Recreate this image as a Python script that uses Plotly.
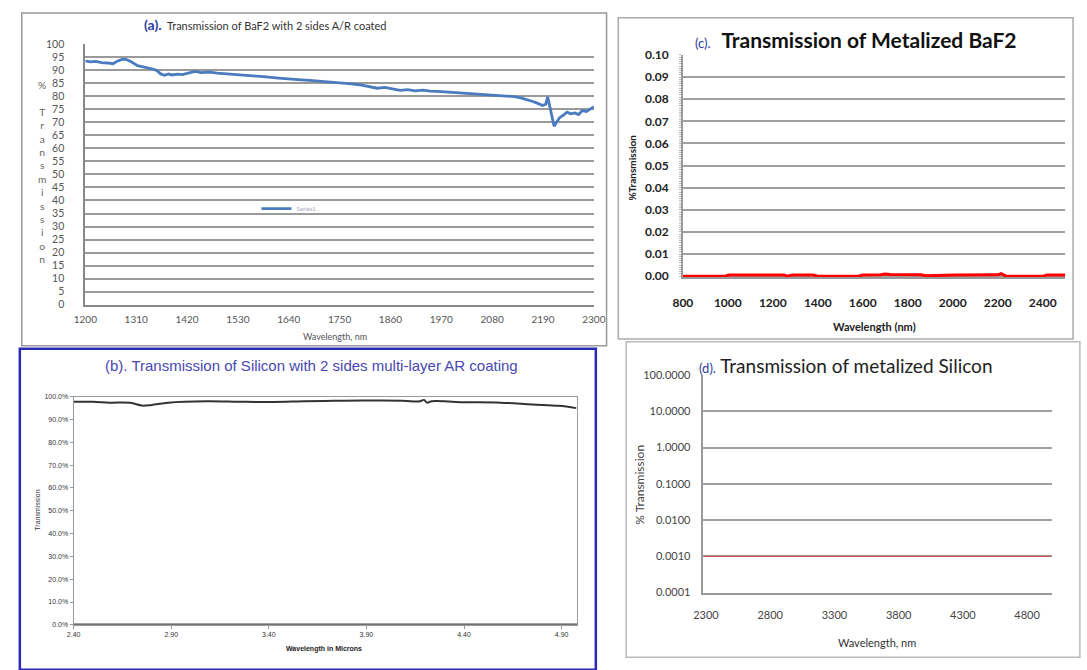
import plotly.graph_objects as go

# ---------------- data ----------------
# (a) BaF2 with 2 sides A/R coated
wl_a = [1200, 1210, 1222, 1235, 1248, 1260, 1270, 1281, 1289, 1300, 1313, 1325, 1338, 1348,
        1355, 1363, 1371, 1380, 1387, 1400, 1410, 1420, 1430, 1437, 1450, 1470, 1485, 1503,
        1520, 1535, 1550, 1568, 1590, 1618, 1640, 1667, 1685, 1700, 1725, 1749, 1770, 1798,
        1815, 1831, 1848, 1864, 1881, 1897, 1914, 1930, 1946, 1970, 1996, 2010, 2029, 2050,
        2070, 2090, 2111, 2128, 2144, 2158, 2168, 2180, 2189, 2196, 2200, 2203, 2207, 2211,
        2214, 2220, 2226, 2234, 2242, 2250, 2259, 2267, 2275, 2284, 2292, 2300]
t_a = [93.6, 93.2, 93.4, 92.9, 92.8, 92.5, 93.6, 94.3, 94.1, 93.2, 91.8, 91.3, 90.9, 90.4,
       89.8, 88.6, 88.1, 88.6, 88.2, 88.5, 88.3, 88.7, 89.3, 89.6, 89.1, 89.3, 88.9, 88.7,
       88.4, 88.3, 87.9, 87.9, 87.5, 87.0, 86.8, 86.3, 86.1, 85.9, 85.6, 85.1, 84.9, 84.3,
       83.8, 83.1, 83.4, 82.8, 82.3, 82.6, 82.1, 82.4, 82.0, 81.8, 81.5, 81.3, 81.1, 80.8,
       80.7, 80.6, 80.3, 79.9, 79.3, 78.6, 78.0, 77.2, 76.5, 77.0, 79.8, 77.5, 74.5, 70.5,
       68.5, 70.2, 71.8, 72.8, 73.9, 73.3, 73.6, 73.0, 74.5, 74.2, 75.2, 76.0]
ticks_a = [1200, 1310, 1420, 1530, 1640, 1750, 1860, 1970, 2080, 2190, 2300]

# (b) Silicon with 2 sides multi-layer AR coating (wavelength in microns, % transmission)
wl_b = [2.40, 2.50, 2.585, 2.69, 2.75, 2.80, 2.885, 3.085, 3.25, 3.42, 3.585, 3.735, 3.885,
        4.085, 4.175, 4.195, 4.21, 4.235, 4.385, 4.585, 4.75, 4.885, 4.975]
t_b = [97.8, 97.8, 97.4, 97.3, 96.1, 96.4, 97.4, 98.0, 97.8, 97.7, 98.0, 98.2, 98.3,
       98.2, 98.0, 98.6, 97.4, 98.0, 97.6, 97.4, 96.6, 96.0, 95.0]
base_b_x = [2.40, 4.98]
base_b_y = [0.3, 0.3]
ticks_b_x = [2.40, 2.90, 3.40, 3.90, 4.40, 4.90]
ticks_b_y = [0, 10, 20, 30, 40, 50, 60, 70, 80, 90, 100]

# (c) Metalized BaF2
wl_c = [800, 990, 1000, 1010, 1250, 1265, 1280, 1295, 1380, 1400, 1580, 1600, 1680, 1700,
        1720, 1860, 1880, 1990, 2010, 2200, 2215, 2235, 2250, 2400, 2420, 2500]
t_c = [0.0000, 0.0000, 0.0004, 0.0005, 0.0005, 0.0000, 0.0004, 0.0005, 0.0005, 0.0000,
       0.0000, 0.0005, 0.0006, 0.0010, 0.0007, 0.0006, 0.0002, 0.0002, 0.0005, 0.0006,
       0.0011, 0.0001, 0.0000, 0.0000, 0.0005, 0.0005]
ticks_c_y = [0.00, 0.01, 0.02, 0.03, 0.04, 0.05, 0.06, 0.07, 0.08, 0.09, 0.10]

# (d) Metalized Silicon
wl_d = [2280, 2800, 3300, 3800, 4300, 4800, 4990]
t_d = [0.001, 0.001, 0.001, 0.001, 0.001, 0.001, 0.001]
ticks_d_x = [2300, 2800, 3300, 3800, 4300, 4800]
ticks_d_y = [0.0001, 0.001, 0.01, 0.1, 1, 10, 100]

W, H = 1087, 670


def px(x):
    return x / W


def py(y):
    return 1 - y / H


CAL = "Lato, 'Open Sans', sans-serif"
ARI = "'Liberation Sans', Arial, sans-serif"

fig = go.Figure()

fig.add_trace(go.Scatter(x=wl_a, y=t_a, mode="lines", name="Series1",
                         line=dict(color="#4a7bbf", width=2.8), xaxis="x", yaxis="y",
                         showlegend=True))
fig.add_trace(go.Scatter(x=base_b_x, y=base_b_y, mode="lines", line=dict(color="#444", width=1.5),
                         xaxis="x2", yaxis="y2", showlegend=False))
fig.add_trace(go.Scatter(x=wl_b, y=t_b, mode="lines", line=dict(color="#333", width=2, shape="spline"),
                         xaxis="x2", yaxis="y2", showlegend=False))
fig.add_trace(go.Scatter(x=wl_c, y=t_c, mode="lines", line=dict(color="#ff0000", width=3),
                         xaxis="x3", yaxis="y3", showlegend=False))
fig.add_trace(go.Scatter(x=wl_d, y=t_d, mode="lines", line=dict(color="#d04040", width=1),
                         xaxis="x4", yaxis="y4", showlegend=False))

fig.update_layout(
    width=W, height=H, margin=dict(l=0, r=0, t=0, b=0),
    paper_bgcolor="white", plot_bgcolor="white",
    showlegend=True,
    legend=dict(x=px(250), y=py(205), xanchor="left", yanchor="middle", bgcolor="rgba(0,0,0,0)",
                font=dict(family=CAL, size=6, color="#aab"), itemwidth=30),
    # (a)
    xaxis=dict(domain=[px(75), px(595)], anchor="y", range=[1200, 2300], tickvals=ticks_a,
               showgrid=False, zeroline=False, showline=True, linecolor="#888", linewidth=2,
               tickfont=dict(family=CAL, size=10, color="#555"), ticks="", ticklabelstandoff=4),
    yaxis=dict(domain=[py(303), py(37)], anchor="x", range=[0, 100], dtick=5,
               showgrid=True, gridcolor="#9a9a9a", gridwidth=2, zeroline=False,
               showline=True, linecolor="#888", linewidth=2,
               tickfont=dict(family=CAL, size=10.5, color="#555"), ticks="", ticklabelstandoff=17),
    # (b)
    xaxis2=dict(domain=[px(63), px(578)], anchor="y2", range=[2.40, 4.98], tickvals=ticks_b_x,
                tickformat=".2f", showgrid=False, zeroline=False, showline=True, mirror=True,
                linecolor="#999", linewidth=1, ticks="outside", ticklen=3, tickcolor="#999",
                tickfont=dict(family=ARI, size=7, color="#333")),
    yaxis2=dict(domain=[py(630), py(397)], anchor="x2", range=[0, 100], tickvals=ticks_b_y,
                ticktext=[f"{v:.1f}%" for v in ticks_b_y], showgrid=False, zeroline=False,
                showline=True, mirror=True, linecolor="#999", linewidth=1, ticks="outside",
                ticklen=3, tickcolor="#999", tickfont=dict(family=ARI, size=7, color="#333")),
    # (c)
    xaxis3=dict(domain=[px(686), px(1077)], anchor="y3", range=[800, 2500], dtick=200,
                showgrid=False, zeroline=False, showline=True, linecolor="#999", linewidth=1.5,
                ticks="", tickfont=dict(family=CAL, size=12, color="#222", weight="bold"),
                ticklabelstandoff=14),
    yaxis3=dict(domain=[py(275), py(48)], anchor="x3", range=[-0.0005, 0.1], tickvals=ticks_c_y,
                tickformat=".2f", showgrid=True, gridcolor="#a0a0a0", gridwidth=1.5,
                zeroline=False, showline=True, linecolor="#999", linewidth=1.5,
                ticks="", tickfont=dict(family=CAL, size=12, color="#222", weight="bold"),
                ticklabelstandoff=10,
                minor=dict(dtick=0.001, ticks="outside", ticklen=2, tickcolor="#bbb", showgrid=False)),
    # (d)
    xaxis4=dict(domain=[px(707), px(1063)], anchor="y4", range=[2280, 4990], tickvals=ticks_d_x,
                showgrid=False, zeroline=False, showline=True, linecolor="#999", linewidth=1.5,
                ticks="", tickfont=dict(family=CAL, size=11, color="#444"), ticklabelstandoff=12),
    yaxis4=dict(domain=[py(597), py(375)], anchor="x4", type="log", range=[-4, 2],
                tickvals=ticks_d_y, ticktext=[f"{v:.4f}" for v in ticks_d_y],
                showgrid=True, gridcolor="#a0a0a0", gridwidth=1.5, zeroline=False,
                showline=True, linecolor="#999", linewidth=1.5, ticks="",
                tickfont=dict(family=CAL, size=11, color="#444"), ticklabelstandoff=9),
)

# panel frames
shapes = [
    dict(type="rect", xref="paper", yref="paper", x0=px(10), x1=px(608), y0=py(345), y1=py(5),
         line=dict(color="#999", width=1.5)),
    dict(type="rect", xref="paper", yref="paper", x0=px(620), x1=px(1085), y0=py(338), y1=py(10),
         line=dict(color="#aaa", width=1.5)),
    dict(type="rect", xref="paper", yref="paper", x0=px(628), x1=px(1092), y0=py(663), y1=py(341),
         line=dict(color="#bbb", width=1.5)),
    dict(type="rect", xref="paper", yref="paper", x0=px(8), x1=px(597), y0=py(676), y1=py(348),
         line=dict(color="#2a2ab8", width=2.5)),
]
fig.update_layout(shapes=shapes)


def ann(x, y, text, size, color="#333", family=CAL, xanchor="center", angle=0, weight="normal"):
    fig.add_annotation(x=px(x), y=py(y), xref="paper", yref="paper", text=text, showarrow=False,
                       xanchor=xanchor, yanchor="middle", textangle=angle,
                       font=dict(family=family, size=size, color=color, weight=weight))


# (a)
ann(133, 17, '<span style="color:#2a3d9f;font-size:14px"><b>(a).</b></span>  '
             'Transmission of BaF2 with 2 sides A/R coated', 11, "#333", xanchor="left")
ann(31, 168, "<br>".join(list("%") + [""] + list("Transmission")), 10.3, "#666")
ann(330, 335, "Wavelength, nm", 9, "#555")
# (b)
ann(306, 365, "(b). Transmission of Silicon with 2 sides multi-layer AR coating", 15,
    "#4848b0", family=ARI)
ann(319, 655, "Wavelength in Microns", 7, "#222", family=ARI, weight="bold")
ann(26, 513, "Transmission", 7, "#333", family=ARI, angle=-90)
# (c)
ann(696, 32, '<span style="color:#2a3d9f;font-size:13px">(c).</span>  '
             '<b>Transmission of Metalized BaF2</b>', 21, "#111", xanchor="left")
ann(882, 325, "Wavelength (nm)", 11, "#222", weight="bold")
ann(634, 163, "%Transmission", 10, "#222", angle=-90, weight="bold")
# (d)
ann(700, 365, '<span style="color:#2a3d9f;font-size:13px">(d).</span> '
              'Transmission of metalized Silicon', 19, "#222", xanchor="left")
ann(885, 648, "Wavelength, nm", 11, "#333")
ann(642, 487, "% Transmission", 12, "#444", angle=-90)

fig.write_html("out.html", config={"displayModeBar": False},
               post_script="document.body.style.margin='0';document.body.style.overflow='hidden';")
